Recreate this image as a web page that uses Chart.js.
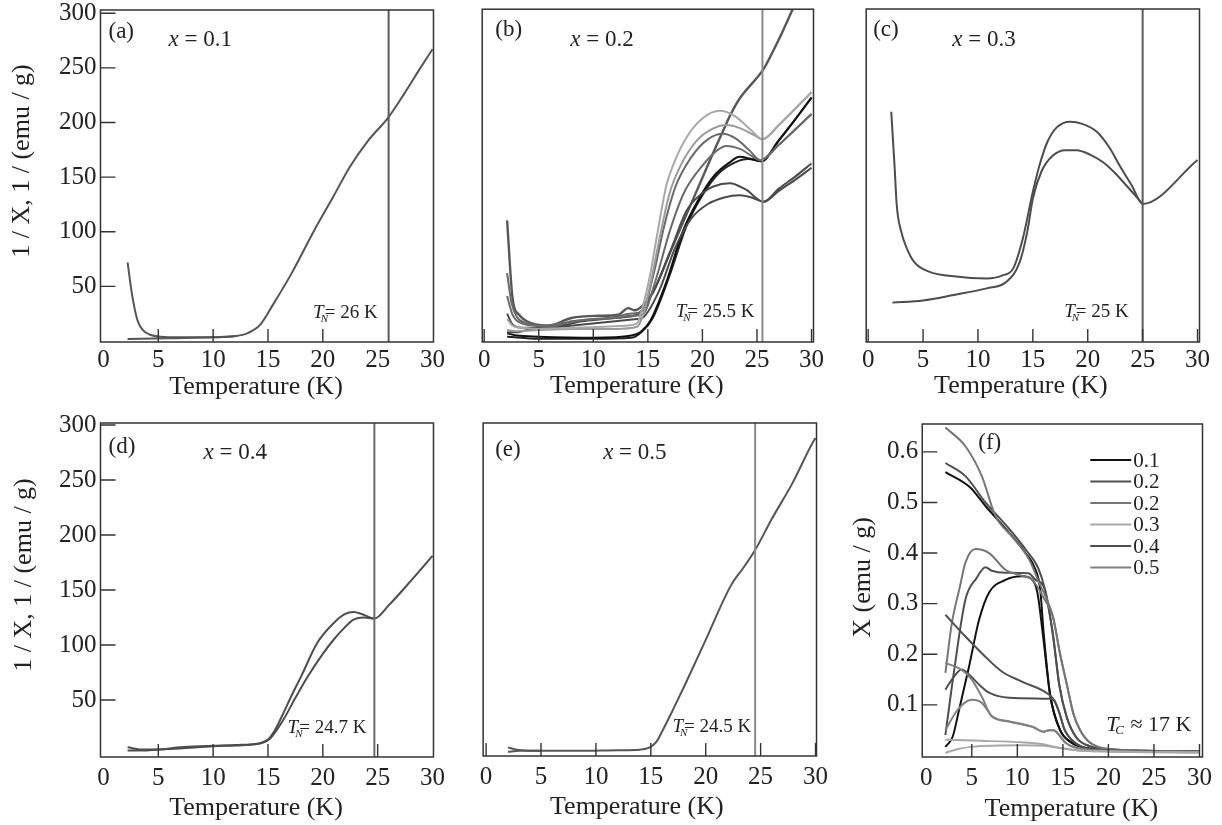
<!DOCTYPE html>
<html>
<head>
<meta charset="utf-8">
<script src="https://cdn.jsdelivr.net/npm/chart.js@4.4.0/dist/chart.umd.min.js"></script>
<style>
  body { margin: 0; background: #fff; width: 1222px; height: 825px; position: relative; overflow: hidden; }
  canvas { position: absolute; }
</style>
</head>
<body>
<canvas id="pa"></canvas>
<canvas id="pb"></canvas>
<canvas id="pc"></canvas>
<canvas id="pd"></canvas>
<canvas id="pe"></canvas>
<canvas id="pf"></canvas>
<script>
// ---- data: [T (K), value] pairs ----
const tempTicks = [0, 5, 10, 15, 20, 25, 30];
const invTicks = [50, 100, 150, 200, 250, 300];
const chiTicks = [0.1, 0.2, 0.3, 0.4, 0.5, 0.6];

// (a) x = 0.1
const a_1 = [[2.2,72],[2.6,43],[3.1,19],[3.6,10],[4.2,6],[5.2,4],[7,3.5],[10,3.5],[12,4.5],[13.1,7],[14.3,15],[15.5,34],[17.1,61],[19.2,101],[21,133],[22.5,160],[24.1,183],[26,205],[27.4,226],[28.9,250],[30,267]];
const a_2 = [[2.2,1.8],[6,2.6],[10,3.4],[12,4.3]];
const a_TN = 26;

// (b) x = 0.2
const b_steep = [[2.1,110],[2.6,39],[3.2,24],[4.4,16],[5.9,14],[8,21],[10.5,23],[12.3,24],[13.2,30],[13.8,28],[14.5,32],[15.5,45],[17,80],[18,103],[19,126],[20,149],[21,172],[22,194],[22.5,205],[23.4,221],[24.9,239],[25.6,248],[26.4,263],[27,275],[28.2,301],[30,340]];
const b_lightA = [[2.1,20],[2.6,14],[3.5,12],[5,11],[8,12],[11,13],[13,14],[14,16],[14.5,30],[15.2,60],[15.8,94],[16.7,142],[17.3,160],[18.5,185],[20,203],[21.6,210],[23,205],[24.5,192],[25.5,184],[27,197],[28.5,212],[30,227]];
const b_lightB = [[2.1,10],[3,9],[5,10],[8,11],[12,11],[14,13],[14.6,25],[15.3,55],[16,90],[17,135],[18,160],[19.5,183],[21,194],[22.2,197],[23.5,194],[24.7,188],[25.5,184],[27,197],[30,227]];
const b_midA = [[2.1,62],[2.5,35],[3,22],[4,16],[6,13],[8,18],[10,20],[12,22],[13.5,25],[14.5,27],[15.5,60],[16.5,105],[17.5,140],[19,168],[20.5,184],[21.9,189],[23,185],[24.3,174],[25.3,165],[27,179],[28.5,193],[30,207]];
const b_midB = [[2.1,41],[2.6,24],[3.5,16],[5,14],[7,16],[9,19],[12,21],[13.5,23],[14.5,24],[15.7,55],[17,100],[18.3,135],[20,160],[21.5,175],[22.2,178],[23.5,175],[24.5,169],[25.3,165],[27,179],[30,207]];
const b_blackA = [[2.1,7],[3,5],[5,4],[10,3],[13.5,5],[14.3,8],[15.2,18],[16.7,54],[18.2,100],[19.7,130],[21,150],[22.5,163],[23.4,168],[24.5,166],[25.4,164],[27,183],[28.5,202],[30,222]];
const b_blackB = [[2.1,4],[5,2],[10,2],[13.5,3],[14.5,9],[15.4,20],[17,60],[18.5,104],[20,133],[21.5,153],[23,163],[24.2,166],[25.4,164],[27,183],[30,222]];
const b_darkA = [[2.1,25],[2.6,15],[3.5,12],[5,12],[7,14],[9,18],[11,20],[13,22],[14,24],[15.5,45],[17,80],[18.5,118],[20,135],[21,141],[22.5,144],[24,138],[25.6,127],[27,139],[28.5,150],[30,162]];
const b_darkB = [[2.1,8],[3,8],[4,10],[7,13],[12,18],[14,20],[14.5,21],[16,45],[17.5,85],[19,112],[20.5,125],[22,131],[23.4,133],[24.5,131],[25.6,127],[27,137],[28.5,147],[30,158]];
const b_TN = 25.5;

// (c) x = 0.3
const c_1 = [[2.1,209],[2.4,160],[2.6,124],[3,100],[3.5,85],[4.2,72],[5.6,63],[7.8,59],[10.8,57],[12.3,60],[13.2,66],[14.1,94],[15,136],[15.6,160],[16.3,181],[17.2,195],[18.4,200],[19.5,198],[20.8,191],[22,176],[22.9,160],[24,142],[25,125],[30,165]];
const c_2 = [[2.2,35],[5,37],[7.8,42],[10.8,48],[12.6,54],[13.8,72],[14.5,100],[15,130],[15.8,155],[16.8,169],[18,174],[19,174],[20.2,170],[21.4,163],[22.5,153],[23.5,142],[25,125]];
const c_TN = 25;

// (d) x = 0.4
const d_1 = [[2.2,7],[3.5,5],[5,5],[7,7],[8.9,8],[12,9],[14.3,11],[15,14],[15.6,22],[16.4,38],[17.2,55],[18,71],[19.5,102],[21,120],[22,128],[22.8,130],[23.6,128],[24.7,124],[26,136],[28,158],[30,181]];
const d_2 = [[2.2,4],[3.5,4],[5,5],[7,6],[10,8],[13,9],[14.5,11],[15.2,15],[16.4,32],[17.5,52],[18.6,71],[20,92],[21,105],[22,116],[22.8,123],[23.7,125],[24.7,124]];
const d_TN = 24.7;

// (e) x = 0.5
const e_1 = [[2,6],[2.8,4],[4,3],[8,3],[12,3.5],[14,4],[14.9,6],[15.5,11],[16,20],[17,40],[18.2,65],[20,104],[21.8,144],[22.5,157],[23.3,168],[24.5,186],[26,214],[27.9,247],[29.8,285],[30,288]];
const e_2 = [[2,2],[3,3],[5,3]];
const e_TN = 24.5;

// (f) chi vs T, FC and ZFC per sample
const f_01_fc = [[2.1,0.56],[4.8,0.53],[6.5,0.493],[9.1,0.44],[10.9,0.40],[12,0.367],[12.5,0.33],[12.9,0.24],[13.6,0.12],[14.7,0.05],[16,0.025],[17,0.017],[20,0.01],[30,0.008]];
const f_01_zfc = [[2.1,0.017],[2.9,0.037],[3.6,0.09],[4.7,0.176],[5.8,0.268],[6.9,0.322],[8.7,0.347],[10.5,0.354],[11.6,0.348],[12.2,0.322],[12.8,0.24],[13.6,0.12],[14.7,0.05],[16,0.025],[17,0.017],[20,0.01],[30,0.008]];
const f_02a_fc = [[2.1,0.578],[4.3,0.552],[6.5,0.50],[9,0.45],[11,0.405],[12.3,0.37],[13,0.33],[13.9,0.24],[14.6,0.14],[15.4,0.077],[16.5,0.035],[18,0.018],[20,0.012],[30,0.008]];
const f_02a_zfc = [[2.1,0.04],[3,0.16],[4.3,0.308],[5.5,0.35],[6.5,0.372],[7.2,0.365],[8.7,0.361],[11.2,0.36],[12,0.347],[13,0.33],[13.9,0.24],[14.6,0.14],[15.4,0.077],[16.5,0.035],[18,0.018],[20,0.012],[30,0.008]];
const f_02b_fc = [[2.1,0.648],[4.3,0.611],[6.1,0.552],[7.6,0.473],[9.4,0.433],[11.3,0.387],[12.4,0.341],[13.2,0.31],[13.9,0.275],[14.7,0.2],[15.4,0.143],[16.2,0.08],[16.9,0.05],[18,0.025],[20,0.013],[30,0.008]];
const f_02b_zfc = [[2.1,0.163],[2.8,0.26],[3.7,0.334],[4.3,0.381],[5.4,0.408],[6.9,0.40],[8.7,0.367],[10.5,0.355],[11.6,0.348],[13,0.308],[13.9,0.275],[14.7,0.2],[15.4,0.143],[16.2,0.08],[16.9,0.05],[18,0.025],[20,0.013],[30,0.008]];
const f_03_fc = [[2.1,0.031],[6,0.029],[10.5,0.026],[12.5,0.023],[14.1,0.017],[16.7,0.01],[20,0.008],[30,0.006]];
const f_03_zfc = [[2.1,0.005],[3.5,0.013],[5,0.017],[10.5,0.02],[13,0.019],[14.5,0.015],[16.7,0.01],[20,0.008],[30,0.006]];
const f_04_fc = [[2.1,0.278],[4.3,0.235],[6.1,0.202],[8.3,0.166],[10.5,0.146],[13.5,0.12],[14,0.11],[14.6,0.085],[15.2,0.05],[16,0.03],[17,0.018],[20,0.01],[30,0.008]];
const f_04_zfc = [[2.1,0.13],[3,0.155],[3.9,0.17],[4.7,0.16],[5.8,0.14],[6.9,0.124],[9.1,0.114],[13.5,0.112],[14,0.11],[14.6,0.085],[15.2,0.05],[16,0.03],[17,0.018],[20,0.01],[30,0.008]];
const f_05_fc = [[2.1,0.183],[3.9,0.169],[5,0.15],[6.1,0.116],[7.2,0.077],[9.1,0.067],[11.6,0.057],[12.9,0.047],[13.5,0.05],[14,0.05],[14.6,0.04],[15.3,0.025],[16.5,0.015],[20,0.009],[30,0.007]];
const f_05_zfc = [[2.1,0.05],[3.2,0.084],[4.2,0.104],[5,0.11],[6.1,0.104],[6.7,0.09],[7.2,0.078],[9.1,0.067],[11.6,0.057],[12.9,0.047],[13.5,0.05],[14,0.05],[14.6,0.04],[15.3,0.025],[16.5,0.015],[20,0.009],[30,0.007]];
const legendLabels = ['0.1', '0.2', '0.2', '0.3', '0.4', '0.5'];
const legendColors = ['#111111', '#4f4f4f', '#767676', '#a8a8a8', '#4f4f4f', '#808080'];

// ---- drawing ----
const FONT = '"Liberation Serif", "Times New Roman", serif';
const TXT = '#222';

function line(arr, color, width) {
  return {
    data: arr.map(p => ({x: p[0], y: p[1]})),
    borderColor: color,
    borderWidth: width || 2,
    pointRadius: 0,
    fill: false,
    cubicInterpolationMode: 'monotone'
  };
}

function vline(t, ymin, ymax, color) {
  return {
    data: [{x: t, y: ymin}, {x: t, y: ymax}],
    borderColor: color,
    borderWidth: 2,
    pointRadius: 0,
    tension: 0
  };
}

// T with a subscript followed by plain text, right aligned at rx
function subLabel(ctx, rx, cy, n) {
  const big = 'italic ' + n.size + 'px ' + FONT;
  const small = 'italic ' + Math.round(n.size * 0.6) + 'px ' + FONT;
  const reg = n.size + 'px ' + FONT;
  ctx.font = big; const wT = ctx.measureText('T').width;
  ctx.font = small; const wS = ctx.measureText(n.sub).width;
  ctx.font = reg; const wR = ctx.measureText(n.text).width;
  const gap = n.after ? wS - 2 : 1;
  const x0 = rx - wT - gap - wR;
  ctx.textAlign = 'left';
  ctx.font = big; ctx.fillText('T', x0, cy);
  ctx.font = small; ctx.fillText(n.sub, x0 + wT - 3, cy + 6);
  ctx.font = reg; ctx.fillText(n.text, x0 + wT + gap, cy);
}

function makePanel(id, box, p) {
  const canvas = document.getElementById(id);
  canvas.width = box.w + 200;
  canvas.height = box.h + 120;

  const deco = {
    id: 'deco',
    afterDraw(chart) {
      const ctx = chart.ctx, ca = chart.chartArea;
      const x = chart.scales.x, y = chart.scales.y;
      ctx.save();
      ctx.strokeStyle = '#333';
      ctx.lineWidth = 1.5;
      ctx.strokeRect(ca.left, ca.top, ca.right - ca.left, ca.bottom - ca.top);
      ctx.lineWidth = 1.4;
      ctx.beginPath();
      p.xMarks.forEach(v => {
        const px = x.getPixelForValue(v);
        ctx.moveTo(px, ca.bottom); ctx.lineTo(px, ca.bottom - 13);
      });
      (p.yMarks || []).forEach(v => {
        const py = y.getPixelForValue(v);
        ctx.moveTo(ca.left, py); ctx.lineTo(ca.left + 15, py);
      });
      ctx.stroke();

      ctx.fillStyle = TXT;
      ctx.textBaseline = 'middle';

      // axis titles
      ctx.textAlign = 'center';
      ctx.font = '26px ' + FONT;
      ctx.fillText('Temperature (K)', (ca.left + ca.right) / 2 + p.xTitle[0], ca.bottom + p.xTitle[1]);
      if (p.yTitle) {
        ctx.save();
        ctx.translate(ca.left + p.yTitlePos[0], (ca.top + ca.bottom) / 2 + p.yTitlePos[1]);
        ctx.rotate(-Math.PI / 2);
        ctx.fillText(p.yTitle, 0, 0);
        ctx.restore();
      }

      ctx.textAlign = 'left';
      ctx.font = '23px ' + FONT;
      ctx.fillText(p.tag, ca.left + p.tagPos[0], ca.top + p.tagPos[1]);
      if (p.comp) {
        const cx = ca.left + p.compPos[0], cy = ca.top + p.compPos[1];
        ctx.font = 'italic 23px ' + FONT;
        ctx.fillText('x', cx, cy);
        const w = ctx.measureText('x').width;
        ctx.font = '23px ' + FONT;
        ctx.fillText(' = ' + p.comp, cx + w, cy);
      }
      if (p.note) {
        const rx = p.note.at != null ? x.getPixelForValue(p.note.at) + p.note.dx : ca.right + p.note.dx;
        subLabel(ctx, rx, ca.bottom + p.note.dy, p.note);
      }
      if (p.legend) {
        ctx.font = '21px ' + FONT;
        ctx.lineWidth = 2;
        legendLabels.forEach((lab, i) => {
          const ly = ca.top + 36 + i * 21.5;
          ctx.strokeStyle = legendColors[i];
          ctx.beginPath();
          ctx.moveTo(ca.left + 168, ly); ctx.lineTo(ca.left + 209, ly);
          ctx.stroke();
          ctx.fillText(lab, ca.left + 211, ly + 1);
        });
      }
      ctx.restore();
    }
  };

  const chart = new Chart(canvas, {
    type: 'line',
    data: {datasets: p.datasets},
    options: {
      responsive: false,
      maintainAspectRatio: false,
      animation: false,
      events: [],
      layout: {padding: {left: p.yTitle ? 70 : 0, bottom: 62, right: 0, top: 0}},
      plugins: {legend: {display: false}, tooltip: {enabled: false}},
      scales: {
        x: {
          type: 'linear',
          min: p.xRange[0], max: p.xRange[1],
          afterBuildTicks: s => { s.ticks = tempTicks.map(v => ({value: v})); },
          grid: {display: false, drawTicks: false},
          border: {display: false},
          ticks: {color: TXT, padding: p.xTickPad, maxRotation: 0, font: {family: FONT, size: 25}}
        },
        y: {
          type: 'linear',
          min: p.yRange[0], max: p.yRange[1],
          afterBuildTicks: s => { s.ticks = (p.yTicks || []).map(v => ({value: v})); },
          grid: {display: false, drawTicks: false},
          border: {display: false},
          ticks: {display: !!p.yTicks, color: TXT, padding: 4, font: {family: FONT, size: 25},
                  callback: v => p.yFmt ? p.yFmt(v) : v}
        }
      }
    },
    plugins: [deco]
  });

  // put the plot frame exactly on the box of the reference
  const ca = chart.chartArea;
  const l = ca.left, t = ca.top, r = chart.width - ca.right, b = chart.height - ca.bottom;
  chart.resize(Math.round(l + box.w + r), Math.round(t + box.h + b));
  const ca2 = chart.chartArea;
  canvas.style.left = (box.x - ca2.left) + 'px';
  canvas.style.top = (box.y - ca2.top) + 'px';
  return chart;
}

const G1 = '#555555', GV = '#8a8a8a';
const Y_TITLE = '1 / X, 1 / (emu / g)';

makePanel('pa', {x: 100, y: 10, w: 333, h: 332}, {
  xRange: [-0.27, 30.09], yRange: [-0.9, 303],
  yTicks: invTicks, yTitle: Y_TITLE, yTitlePos: [-78, -15],
  xTickPad: 3, xTitle: [-11, 45],
  xMarks: [5, 10, 15, 20], yMarks: invTicks,
  tag: '(a)', tagPos: [8, 22], comp: '0.1', compPos: [68, 30],
  note: {at: a_TN, dx: -11, dy: -29, sub: 'N', text: '= 26 K', size: 19},
  datasets: [vline(a_TN, -5, 310, '#5a5a5a'), line(a_1, G1), line(a_2, G1)]
});

makePanel('pb', {x: 482, y: 9, w: 333, h: 334}, {
  xRange: [-0.18, 30.18], yRange: [-0.9, 302.7],
  xTickPad: 3, xTitle: [-11, 44],
  xMarks: tempTicks,
  tag: '(b)', tagPos: [13, 21], comp: '0.2', compPos: [88, 31],
  note: {at: b_TN, dx: -8, dy: -30, sub: 'N', text: '= 25.5 K', size: 19},
  datasets: [
    vline(b_TN, -5, 310, GV),
    line(b_lightA, '#a8a8a8'), line(b_lightB, '#9a9a9a'),
    line(b_midA, '#6a6a6a'), line(b_midB, '#6a6a6a'),
    line(b_darkA, '#4a4a4a'), line(b_darkB, '#4a4a4a'),
    line(b_blackA, '#111111'), line(b_blackB, '#222222'),
    line(b_steep, '#575757', 2.4)
  ]
});

makePanel('pc', {x: 866, y: 9, w: 335, h: 334}, {
  xRange: [-0.18, 30.18], yRange: [-0.9, 302.7],
  xTickPad: 3, xTitle: [-12, 44],
  xMarks: tempTicks,
  tag: '(c)', tagPos: [7, 21], comp: '0.3', compPos: [86, 31],
  note: {at: c_TN, dx: -14, dy: -30, sub: 'N', text: '= 25 K', size: 19},
  datasets: [vline(c_TN, -5, 310, '#5a5a5a'), line(c_1, '#4d4d4d'), line(c_2, '#4d4d4d')]
});

makePanel('pd', {x: 100, y: 423, w: 333, h: 334}, {
  xRange: [-0.27, 30.09], yRange: [-1.8, 301.8],
  yTicks: invTicks, yTitle: Y_TITLE, yTitlePos: [-76, -15],
  xTickPad: 6, xTitle: [-11, 51],
  xMarks: [5, 10, 15, 20, 25], yMarks: invTicks,
  tag: '(d)', tagPos: [8, 24], comp: '0.4', compPos: [103, 30],
  note: {at: d_TN, dx: -8, dy: -29, sub: 'N', text: '= 24.7 K', size: 19},
  datasets: [vline(d_TN, -5, 310, '#6a6a6a'), line(d_1, '#4d4d4d'), line(d_2, '#4d4d4d')]
});

makePanel('pe', {x: 483, y: 423, w: 335, h: 334}, {
  xRange: [-0.27, 30.09], yRange: [-1.8, 301.8],
  xTickPad: 6, xTitle: [-13, 51],
  xMarks: tempTicks,
  tag: '(e)', tagPos: [12, 27], comp: '0.5', compPos: [120, 30],
  note: {at: e_TN, dx: -4, dy: -29, sub: 'N', text: '= 24.5 K', size: 19},
  datasets: [vline(e_TN, -5, 310, GV), line(e_1, G1), line(e_2, G1)]
});

makePanel('pf', {x: 922, y: 424, w: 281, h: 333}, {
  xRange: [-0.44, 30.33], yRange: [-0.003, 0.655],
  yTicks: chiTicks, yFmt: v => v.toFixed(1), yTitle: 'X (emu / g)', yTitlePos: [-59, -13],
  xTickPad: 6, xTitle: [9, 52],
  xMarks: [5, 10, 15, 20, 25, 30], yMarks: chiTicks,
  tag: '(f)', tagPos: [56, 19],
  note: {at: null, dx: -11, dy: -32, sub: 'C', text: ' \u2248 17 K', size: 22, after: true},
  legend: true,
  datasets: [
    line(f_03_fc, legendColors[3]), line(f_03_zfc, legendColors[3]),
    line(f_05_fc, legendColors[5]), line(f_05_zfc, legendColors[5]),
    line(f_04_fc, legendColors[4]), line(f_04_zfc, legendColors[4]),
    line(f_02b_fc, legendColors[2]), line(f_02b_zfc, legendColors[2]),
    line(f_02a_fc, legendColors[1]), line(f_02a_zfc, legendColors[1]),
    line(f_01_fc, legendColors[0]), line(f_01_zfc, legendColors[0])
  ]
});
</script>
</body>
</html>
